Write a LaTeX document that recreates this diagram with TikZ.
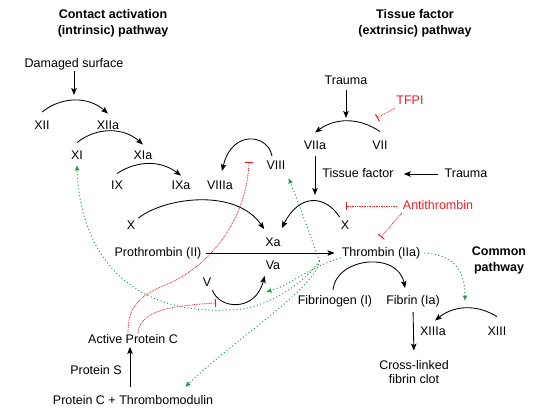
\documentclass[tikz,border=0pt]{standalone}
\usepackage{fontspec}
\setmainfont{Liberation Sans}
\usepackage{tikz}
\usetikzlibrary{arrows.meta}
\definecolor{inhibred}{RGB}{237,28,36}
\definecolor{feedgreen}{RGB}{30,158,72}
\tikzset{%
  every factor/.style={
    font=\fontsize{12.5pt}{15pt}\selectfont,
    inner sep=1pt,
    text height=9pt,
    text depth=2.5pt
  },
  pathway title/.style={
    font=\fontsize{12.5pt}{16pt}\selectfont\bfseries,
    align=center
  },
  conversion/.style={
    ->,
    line width=0.85pt
  },
  inhibitor line/.style={
    inhibred,
    line width=0.8pt,
    dash pattern=on 0.8pt off 0.9pt,
    -{Bar[width=8pt,line width=1pt]}
  },
  feedback line/.style={
    feedgreen,
    line width=1pt,
    dash pattern=on 1pt off 2.5pt,
    -{Latex[length=5.5pt,width=5pt]}
  },
}

\begin{document}
\begin{tikzpicture}[x=1pt, y=1pt, > = {Stealth[length=7pt,width=5.5pt,inset=1.5pt]}]
\useasboundingbox (0,0) rectangle (535,-409);

    \node[pathway title] (intrinsic) at (113,-23) {Contact activation\\(intrinsic) pathway};
    \node[pathway title] (extrinsic) at (415,-23) {Tissue factor\\(extrinsic) pathway};
    \node[pathway title] (common) at (499,-260) {Common\\pathway};

    \node[every factor] (damaged) at (74,-64) {Damaged surface};
    \node[every factor] (xii) at (42,-126) {XII};
    \node[every factor] (xiia) at (108,-126) {XIIa};
    \node[every factor] (xi) at (77,-156) {XI};
    \node[every factor] (xia) at (143,-156) {XIa};
    \node[every factor] (ix) at (117,-186) {IX};
    \node[every factor] (ixa) at (181,-186) {IXa};
    \node[every factor] (viiia) at (220,-186) {VIIIa};
    \node[every factor] (viii) at (276,-166) {VIII};
    \node[every factor] (xl) at (131,-226) {X};
    \node[every factor] (xa) at (273,-243) {Xa};
    \node[every factor] (va) at (273,-266) {Va};
    \node[every factor] (v) at (207,-283) {V};
    \node[every factor] (prothrombin) at (158,-253) {Prothrombin (II)};
    \node[every factor] (thrombin) at (381,-253) {Thrombin (IIa)};
    \node[every factor] (apc) at (133,-340) {Active Protein C};
    \node[every factor] (proteins) at (96,-371) {Protein S};
    \node[every factor] (pctm) at (133,-401) {Protein C + Thrombomodulin};

    \node[every factor] (trauma1) at (346,-81) {Trauma};
    \node[every factor, inhibred] (tfpi) at (410,-101) {TFPI};
    \node[every factor] (viia) at (315,-146) {VIIa};
    \node[every factor] (vii) at (380,-146) {VII};
    \node[every factor] (tissue) at (358,-174) {Tissue factor};
    \node[every factor] (trauma2) at (466,-174) {Trauma};
    \node[every factor, inhibred] (anti) at (438,-206) {Antithrombin};
    \node[every factor] (xr) at (345,-226) {X};

    \node[every factor] (fibrinogen) at (335,-301) {Fibrinogen (I)};
    \node[every factor] (fibrin) at (413,-301) {Fibrin (Ia)};
    \node[every factor] (xiiia) at (433,-332) {XIIIa};
    \node[every factor] (xiii) at (497,-332) {XIII};
    \node[font=\fontsize{12.5pt}{14.5pt}\selectfont, align=center] (clot) at (414,-372) {Cross-linked\\fibrin clot};

    \coordinate (xiiarc) at (74,-95);
    \coordinate (viiarc) at (346,-118);
    \coordinate (xrarc) at (315,-195);
    \coordinate (tfpibar) at (377,-118);
    \coordinate (xrbar) at (346,-206);
    \coordinate (viiibar) at (249,-162);
    \coordinate (vbar) at (216,-303);
    \coordinate (varc) at (266,-292);
    \coordinate (xiiiarc) at (465,-301);
    \coordinate (thr) at ([shift={(-21,-8)}]thrombin.west);

    % conversions
    \draw[conversion] ([yshift=7pt]xii.north) to[bend left=40] ([yshift=5.5pt]xiia.north);
    \draw[conversion] ([yshift=6.5pt]xi.north) to[bend left=40] ([yshift=4.5pt]xia.north);
    \draw[conversion] ([yshift=5.5pt]ix.north) to[bend left=35] ([yshift=3.5pt]ixa.north);
    \draw[conversion] ([shift={(-4,3)}]viii.north) .. controls +(-4,22) and +(10,42) .. ([shift={(2,8)}]viiia.north);
    \draw[conversion] ([shift={(2,1)}]xl.north east) .. controls +(27,21) and +(-28,41) .. ([yshift=7pt]xa.north west);
    \draw[conversion] ([yshift=2pt]xr.north west) .. controls +(-15,23) and +(17,34) .. ([yshift=8pt]xa.north east);
    \draw[conversion] ([yshift=7.5pt]vii.north) to[bend right=35] ([yshift=6.5pt]viia.north);
    \draw[conversion] (v.south east) .. controls +(7,-20) and +(-9,-36) .. ([yshift=-3pt]va.south west);
    \draw[conversion] ([shift={(-2,4)}]fibrinogen.north) .. controls +(3,33) and +(-7,37) .. ([shift={(-8,6)}]fibrin.north);
    \draw[conversion] ([yshift=8.5pt]xiii.north) to[bend right=35] ([shift={(2,4.5)}]xiiia.north);

    \draw[conversion] (damaged.south) -- (xiiarc);
    \draw[conversion] ([yshift=-2pt]trauma1.south) -- (viiarc);
    \draw[conversion, shorten <=3pt] (viia.south) -- (xrarc);
    \draw[conversion, shorten <=6pt, shorten >=9pt] (trauma2.west) -- (tissue.east);
    \draw[conversion, shorten <=3pt, shorten >=6pt] (prothrombin.east) -- (prothrombin.east -| thrombin.west);
    \draw[conversion, shorten <=7pt] ([xshift=-3pt]pctm.north) -- ([xshift=-3pt]apc.south);
    \draw[conversion, shorten <=4pt, shorten >=6pt] (fibrin.south) -- (clot.north);

    % inhibition
    \draw[inhibitor line] (tfpi.south west) -- (tfpibar);
    \draw[inhibitor line, shorten <=5pt] (anti.west) -- (xrbar);
    \draw[inhibitor line] (anti.south west) -- ([yshift=9pt]thrombin.north);
    \draw[inhibitor line] ([xshift=-5pt]apc.north) .. controls (128,-305) and (140,-295) .. (170,-283)
        .. controls (215,-262) and (247,-215) .. (viiibar);
    \draw[inhibitor line] ([xshift=5pt]apc.north) .. controls (140,-312) and (165,-306) .. (vbar);

    % thrombin feedback
    \draw[feedback line] ([xshift=3pt]thrombin.east) .. controls +(30,-2) and +(0,30) .. (xiiiarc);
    \draw[feedback line] ([yshift=-5pt]thrombin.west) .. controls +(-31,-9) and +(24,7) .. (varc);
    \draw[feedback line] (thr) .. controls +(-10,27) and +(9,-22) .. ([shift={(2,-5)}]viii.south east);
    \draw[feedback line] (thr) .. controls +(-5,-28) and +(55,52) .. ([shift={(52,7)}]pctm.north);
    \draw[feedback line] (thr) .. controls +(-20,-28) and (260,-310) .. (230,-310)
        .. controls (130,-315) and (80,-255) .. ([yshift=-2pt]xi.south);
\end{tikzpicture}
\end{document}
